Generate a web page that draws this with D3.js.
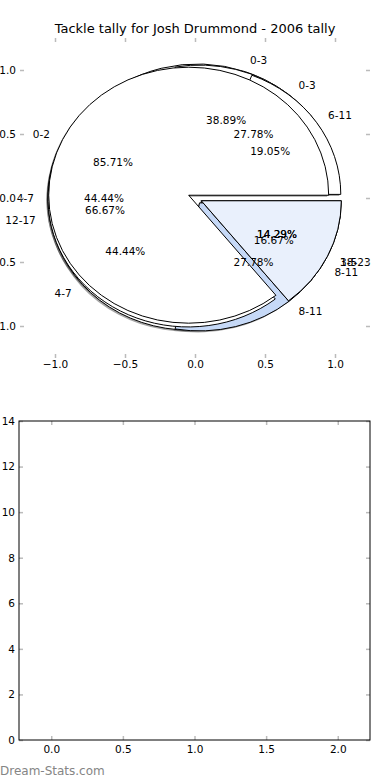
<!DOCTYPE html>
<html lang="en">
<head>
  <meta charset="UTF-8">
  <title>Tackle tally</title>
  <script src="https://d3js.org/d3.v7.min.js"></script>
  <style>
    body { margin: 0; background: #fff; }
    svg { display: block; font-family: "DejaVu Sans", sans-serif; }
  </style>
</head>
<body>
<div class="main"></div>
<script>
  // tackle ranges and number of games for each pie, in drawing order
  var rangesA = ["0-3", "4-7", "8-11"];
  var gamesA = [7, 8, 3];
  var rangesB = ["0-3", "4-7", "8-11"];
  var gamesB = [5, 8, 5];
  var rangesC = ["6-11", "12-17", "18-23"];
  var gamesC = [4, 14, 3];
  var rangesD = ["0-2", "3-5"];
  var gamesD = [18, 3];

  var pieTicks = [-1.0, -0.5, 0.0, 0.5, 1.0];
  var barXTicks = [0.0, 0.5, 1.0, 1.5, 2.0];
  var barYTicks = [0, 2, 4, 6, 8, 10, 12, 14];

  var titleText = "Tackle tally for Josh Drummond - 2006 tally";
  var watermark = "Dream-Stats.com";

  // slice fills, one list per pie
  var fillsA = ["#ffffff", "#ffffff", "#dce8fa"];
  var fillsB = ["#ffffff", "#ffffff", "#c6d9f7"];
  var fillsC = ["#ffffff", "#ffffff", "#e9f0fc"];
  var fillsD = ["#ffffff", "#e9f0fc"];
  var explode = 0.05;

  var width = 390, height = 780;
  var svg = d3.select(".main").append("svg")
          .attr("width", width)
          .attr("height", height);

  // ---- top axes: the pies ----
  var px = d3.scaleLinear().domain([-1.25, 1.25]).range([20, 370]);
  var py = d3.scaleLinear().domain([-1.25, 1.25]).range([358, 38]);
  var rx = px(1) - px(0), ry = py(0) - py(1);

  // matplotlib style: start at 3 o'clock, go counter clockwise
  var pie = d3.pie().sort(null)
          .startAngle(Math.PI / 2)
          .endAngle(Math.PI / 2 - 2 * Math.PI);
  var arc = d3.arc().innerRadius(0).outerRadius(1);
  var pct = d3.format(".2f");

  var pies = [
    {ranges: rangesA, games: gamesA, fills: fillsA},
    {ranges: rangesB, games: gamesB, fills: fillsB},
    {ranges: rangesC, games: gamesC, fills: fillsC},
    {ranges: rangesD, games: gamesD, fills: fillsD}
  ];

  var shadowG = svg.append("g"), wedgeG = svg.append("g"), textG = svg.append("g");

  pies.forEach(function (p) {
    var total = d3.sum(p.games);
    pie(p.games).forEach(function (a, i) {
      var mid = (a.startAngle + a.endAngle) / 2;
      var ux = Math.sin(mid), uy = Math.cos(mid);
      var cx = explode * ux, cy = explode * uy;

      shadowG.append("path")
              .attr("d", arc(a))
              .attr("transform", `translate(${px(cx) - 1.5},${py(cy) + 1.5}) scale(${rx},${ry})`)
              .style("fill", "#4d4d4d")
              .style("opacity", 0.5);

      wedgeG.append("path")
              .attr("d", arc(a))
              .attr("transform", `translate(${px(cx)},${py(cy)}) scale(${rx},${ry})`)
              .style("fill", p.fills[i])
              .style("stroke", "black")
              .style("stroke-width", 1)
              .attr("vector-effect", "non-scaling-stroke");

      var lx = cx + 1.1 * ux, ly = cy + 1.1 * uy;
      textG.append("text")
              .attr("x", px(lx)).attr("y", py(ly))
              .attr("text-anchor", lx > 0 ? "start" : "end")
              .attr("dominant-baseline", "central")
              .style("font-size", "10.5px")
              .text(p.ranges[i]);

      textG.append("text")
              .attr("x", px(cx + 0.6 * ux)).attr("y", py(cy + 0.6 * uy))
              .attr("text-anchor", "middle")
              .attr("dominant-baseline", "central")
              .style("font-size", "10.5px")
              .text(pct(a.value / total * 100) + "%");
    });
  });

  svg.append("text")
          .attr("x", (px.range()[0] + px.range()[1]) / 2).attr("y", 32.5)
          .attr("text-anchor", "middle")
          .style("font-size", "13px")
          .text(titleText);

  function styleAxis(g) {
    g.select(".domain").remove();
    g.selectAll(".tick line").attr("stroke", "#bbb").attr("stroke-width", 1.5);
    g.selectAll(".tick text").attr("fill", "black").style("font-size", "10.5px")
            .style("font-family", "DejaVu Sans");
  }

  function draw(axis, translate) {
    svg.append("g").attr("transform", translate).call(axis).call(styleAxis);
  }

  var f1 = d3.format(".1f");
  draw(d3.axisBottom(px).tickValues(pieTicks).tickSize(-4).tickPadding(3).tickFormat(f1), `translate(0,${py.range()[0]})`);
  draw(d3.axisTop(px).tickValues(pieTicks).tickSize(-4).tickFormat(""), `translate(0,${py.range()[1]})`);
  draw(d3.axisLeft(py).tickValues(pieTicks).tickSize(-4).tickPadding(4).tickFormat(f1), `translate(${px.range()[0]},0)`);
  draw(d3.axisRight(py).tickValues(pieTicks).tickSize(-4).tickFormat(""), `translate(${px.range()[1]},0)`);

  // ---- bottom axes: empty ----
  var bx = d3.scaleLinear().domain([-0.225, 2.225]).range([19, 370]);
  var by = d3.scaleLinear().domain([0, 14]).range([740, 421]);

  draw(d3.axisBottom(bx).tickValues(barXTicks).tickSize(-4).tickPadding(6).tickFormat(f1), `translate(0,${by.range()[0]})`);
  draw(d3.axisTop(bx).tickValues(barXTicks).tickSize(-4).tickFormat(""), `translate(0,${by.range()[1]})`);
  draw(d3.axisLeft(by).tickValues(barYTicks).tickSize(-4).tickPadding(4), `translate(${bx.range()[0]},0)`);
  draw(d3.axisRight(by).tickValues(barYTicks).tickSize(-4).tickFormat(""), `translate(${bx.range()[1]},0)`);

  svg.append("rect")
          .attr("x", bx.range()[0]).attr("y", by.range()[1])
          .attr("width", bx.range()[1] - bx.range()[0])
          .attr("height", by.range()[0] - by.range()[1])
          .style("fill", "none")
          .style("stroke", "black")
          .style("stroke-width", 1);

  svg.append("text")
          .attr("x", 0).attr("y", 775)
          .style("font-size", "12px")
          .style("fill", "#858585")
          .text(watermark);
</script>
</body>
</html>
